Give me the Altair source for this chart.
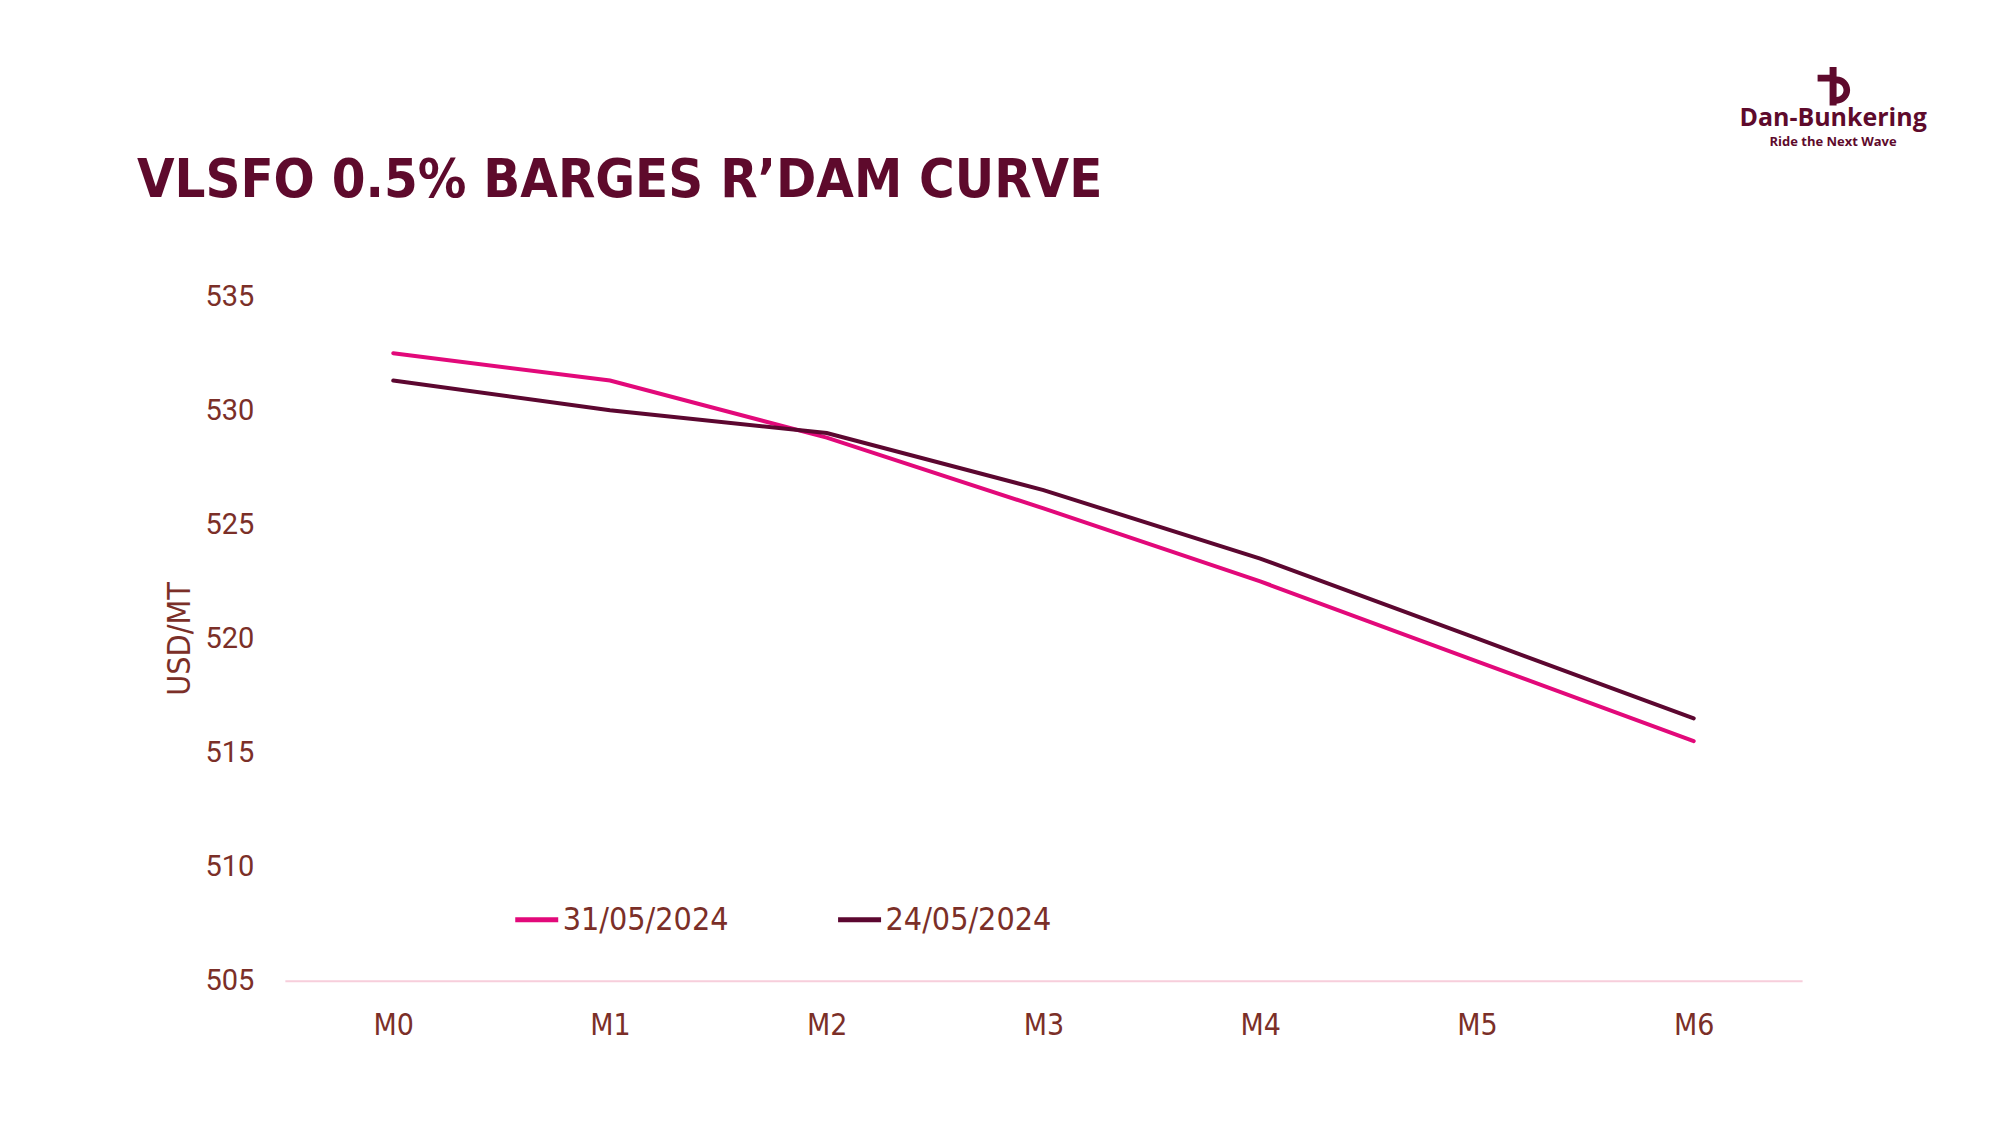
import altair as alt
import pandas as pd

months = ["M0", "M1", "M2", "M3", "M4", "M5", "M6"]
series_names = ["31/05/2024", "24/05/2024"]
curve_3105 = [532.5, 531.3, 528.8, 525.7, 522.5, 519.0, 515.5]
curve_2405 = [531.3, 530.0, 529.0, 526.5, 523.5, 520.0, 516.5]
y_ticks = [505, 510, 515, 520, 525, 530, 535]
colors = ["#E2097A", "#5C0730"]
title_text = "VLSFO 0.5% BARGES R\u2019DAM CURVE"

rows = []
for m, v in zip(months, curve_3105):
    rows.append({"month": m, "value": v, "series": series_names[0]})
for m, v in zip(months, curve_2405):
    rows.append({"month": m, "value": v, "series": series_names[1]})
df = pd.DataFrame(rows)

W, H = 1518, 685
label_col = "#7B2F28"
title_col = "#5E0A2C"
COND = "'DejaVu Sans Condensed', 'DejaVu Sans', sans-serif"

lines = alt.Chart(df).mark_line(strokeWidth=4, strokeCap="round").encode(
    x=alt.X("month:O", sort=months,
            scale=alt.Scale(type="point", padding=0.5),
            axis=alt.Axis(title=None, labelAngle=0, ticks=False, grid=False,
                          domain=True, domainColor="#F7CEDB", domainWidth=2,
                          labelFont=COND, labelFontSize=30,
                          labelColor=label_col, labelPadding=30)),
    y=alt.Y("value:Q", scale=alt.Scale(domain=[505, 535], nice=False, zero=False),
            axis=alt.Axis(values=y_ticks, title="USD/MT", grid=False, ticks=False,
                          domain=False, labelFont="Roboto", labelFontSize=29,
                          labelColor=label_col, labelPadding=31,
                          titleFont=COND, titleFontSize=32,
                          titleFontWeight="normal", titleColor=label_col,
                          titleX=-105, titleY=H / 2, titleAlign="center",
                          titleBaseline="middle", titleAngle=270)),
    color=alt.Color("series:N", sort=series_names,
                    scale=alt.Scale(domain=series_names, range=colors),
                    legend=alt.Legend(title=None, orient="none", legendX=228, legendY=600,
                                      direction="horizontal", symbolType="stroke",
                                      symbolSize=1849, symbolStrokeWidth=5,
                                      labelFont=COND, labelFontSize=32, labelLimit=400,
                                      labelColor=label_col, labelOffset=2,
                                      columnPadding=99)),
)

title_mark = alt.Chart(pd.DataFrame({"t": [title_text]})).mark_text(
    font=COND, fontSize=54, fontWeight="bold", color=title_col,
    align="left", baseline="alphabetic"
).encode(text="t:N", x=alt.value(-148), y=alt.value(-99))

logo_main = alt.Chart(pd.DataFrame({"t": ["Dan-Bunkering"]})).mark_text(
    font="Open Sans", fontSize=25, fontWeight="bold", color=title_col,
    align="center", baseline="alphabetic"
).encode(text="t:N", x=alt.value(1549), y=alt.value(-170))
logo_sub = alt.Chart(pd.DataFrame({"t": ["Ride the Next Wave"]})).mark_text(
    font="Open Sans", fontSize=13, fontWeight="bold", color=title_col,
    align="center", baseline="alphabetic"
).encode(text="t:N", x=alt.value(1549), y=alt.value(-150))
icon_path = ("M-0.18,-1 H0.18 V1 H-0.18 Z "
             "M-0.8,-0.6 H0.18 V-0.25 H-0.8 Z "
             "M0.18,-0.5 A0.7,0.7 0 0 1 0.18,0.9 V0.56 A0.36,0.36 0 0 0 0.18,-0.16 Z")
logo_icon = alt.Chart(pd.DataFrame({"k": [1]})).mark_point(
    shape=icon_path, filled=True, color=title_col, opacity=1, size=1500, strokeWidth=0
).encode(x=alt.value(1549), y=alt.value(-210))

chart = alt.layer(lines, title_mark, logo_icon, logo_main, logo_sub).properties(
    width=W, height=H,
    background="white",
    autosize=alt.AutoSizeParams(type="none"),
    padding={"left": 277, "top": 288, "right": 190, "bottom": 130},
).configure_view(stroke=None)

chart.save("out.html", embed_options={"renderer": "svg", "actions": False})
